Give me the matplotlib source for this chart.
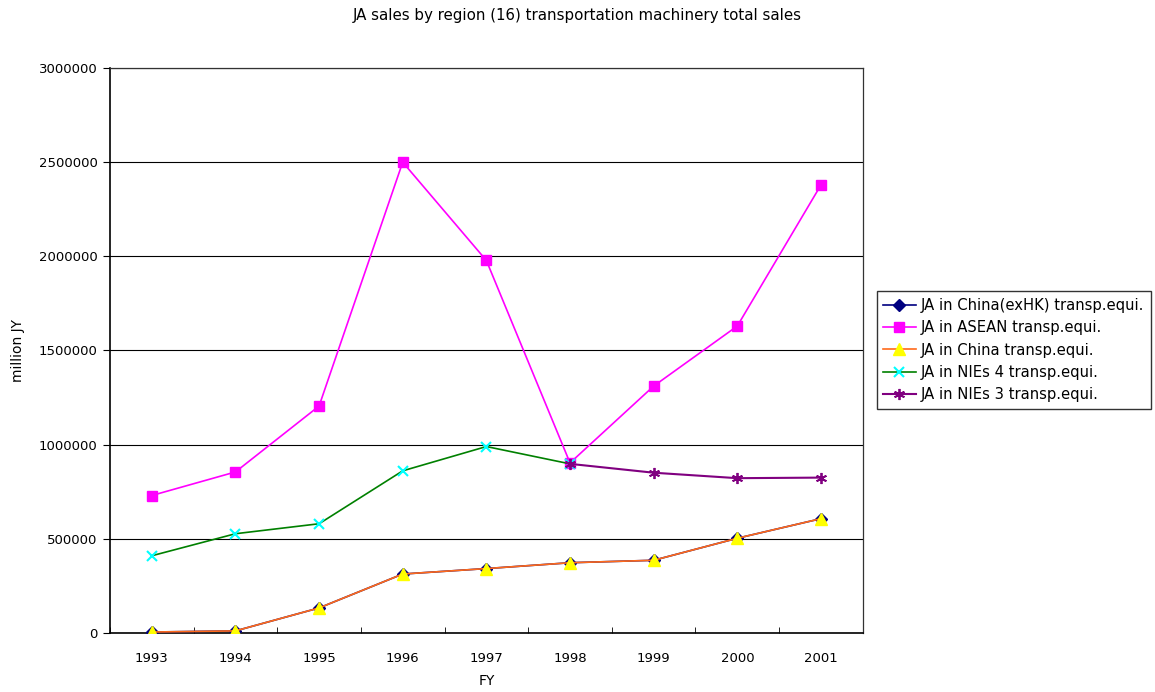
import matplotlib
matplotlib.use("Agg")
import matplotlib.pyplot as plt
from matplotlib.ticker import FixedLocator

plt.rcParams['font.family'] = ['DejaVu Sans']

years = ["1993", "1994", "1995", "1996", "1997", "1998", "1999", "2000", "2001"]
china_exhk = [5000, 11000, 133000, 313000, 342000, 373000, 386000, 503000, 607000]
asean = [730000, 855000, 1205000, 2500000, 1978000, 903000, 1311000, 1630000, 2379000]
china = [5000, 11000, 133000, 313000, 342000, 373000, 386000, 503000, 607000]
nies4 = [410000, 527000, 580000, 861000, 990000, 898000]
nies3 = [898000, 851000, 822000, 825000]

fig = plt.figure(figsize=(11.55, 6.92), dpi=100)
ax = fig.add_axes([0.0952, 0.0853, 0.6518, 0.8164])

x = list(range(len(years)))

ax.plot(x, china_exhk, color='#000080', marker='D', markersize=6,
        markerfacecolor='#000080', markeredgecolor='#000080', lw=1.2,
        label='JA in China(exHK) transp.equi.', zorder=3)
ax.plot(x, asean, color='#FF00FF', marker='s', markersize=7,
        markerfacecolor='#FF00FF', markeredgecolor='#FF00FF', lw=1.2,
        label='JA in ASEAN transp.equi.', zorder=3)
ax.plot(x, china, color='#FF6A1A', marker='^', markersize=8,
        markerfacecolor='#FFFF00', markeredgecolor='#FFFF00', lw=1.2,
        label='JA in China transp.equi.', zorder=4)
ax.plot(x[:len(nies4)], nies4, color='#008000', marker='x', markersize=7,
        markeredgecolor='#00FFFF', markeredgewidth=1.5, lw=1.2,
        label='JA in NIEs 4 transp.equi.', zorder=3)
ax.plot(x[5:], nies3, color='#800080', marker=(6, 2, 0), markersize=8,
        markeredgecolor='#800080', markeredgewidth=1.3, lw=1.5,
        label='JA in NIEs 3 transp.equi.', zorder=5)

ax.set_xlim(-0.5, len(years) - 0.5)
ax.set_ylim(0, 3000000)
ax.set_yticks(range(0, 3000001, 500000))
ax.set_yticklabels([str(v) for v in range(0, 3000001, 500000)], fontsize=9.5)
ax.set_xticks(x)
ax.set_xticklabels(years, fontsize=9.5)
ax.xaxis.set_minor_locator(FixedLocator([i + 0.5 for i in range(-1, len(years))]))
ax.tick_params(axis='x', which='major', length=0, pad=14)
ax.tick_params(axis='x', which='minor', direction='in', length=4, color='black')
ax.tick_params(axis='y', direction='out', length=5, color='black', pad=4)

ax.yaxis.grid(True, color='black', lw=0.8)
ax.set_axisbelow(True)
for s in ax.spines.values():
    s.set_color('#333333')
    s.set_linewidth(0.9)
ax.spines['left'].set_color('black')
ax.spines['bottom'].set_color('black')
ax.spines['left'].set_linewidth(1.2)
ax.spines['bottom'].set_linewidth(1.2)

ax.set_xlabel('FY', fontsize=10, labelpad=6)
ax.set_ylabel('million JY', fontsize=10, labelpad=10)
fig.text(0.5, 0.977, 'JA sales by region (16) transportation machinery total sales',
         ha='center', va='center', fontsize=10.8)

leg = fig.legend(loc='center left', bbox_to_anchor=(0.759, 0.494), fontsize=10.6,
                 frameon=True, fancybox=False, edgecolor='black',
                 handlelength=2.2, borderpad=0.45, labelspacing=0.5,
                 handletextpad=0.35, borderaxespad=0)
leg.get_frame().set_linewidth(1.0)

fig.savefig('out.png', dpi=100)
